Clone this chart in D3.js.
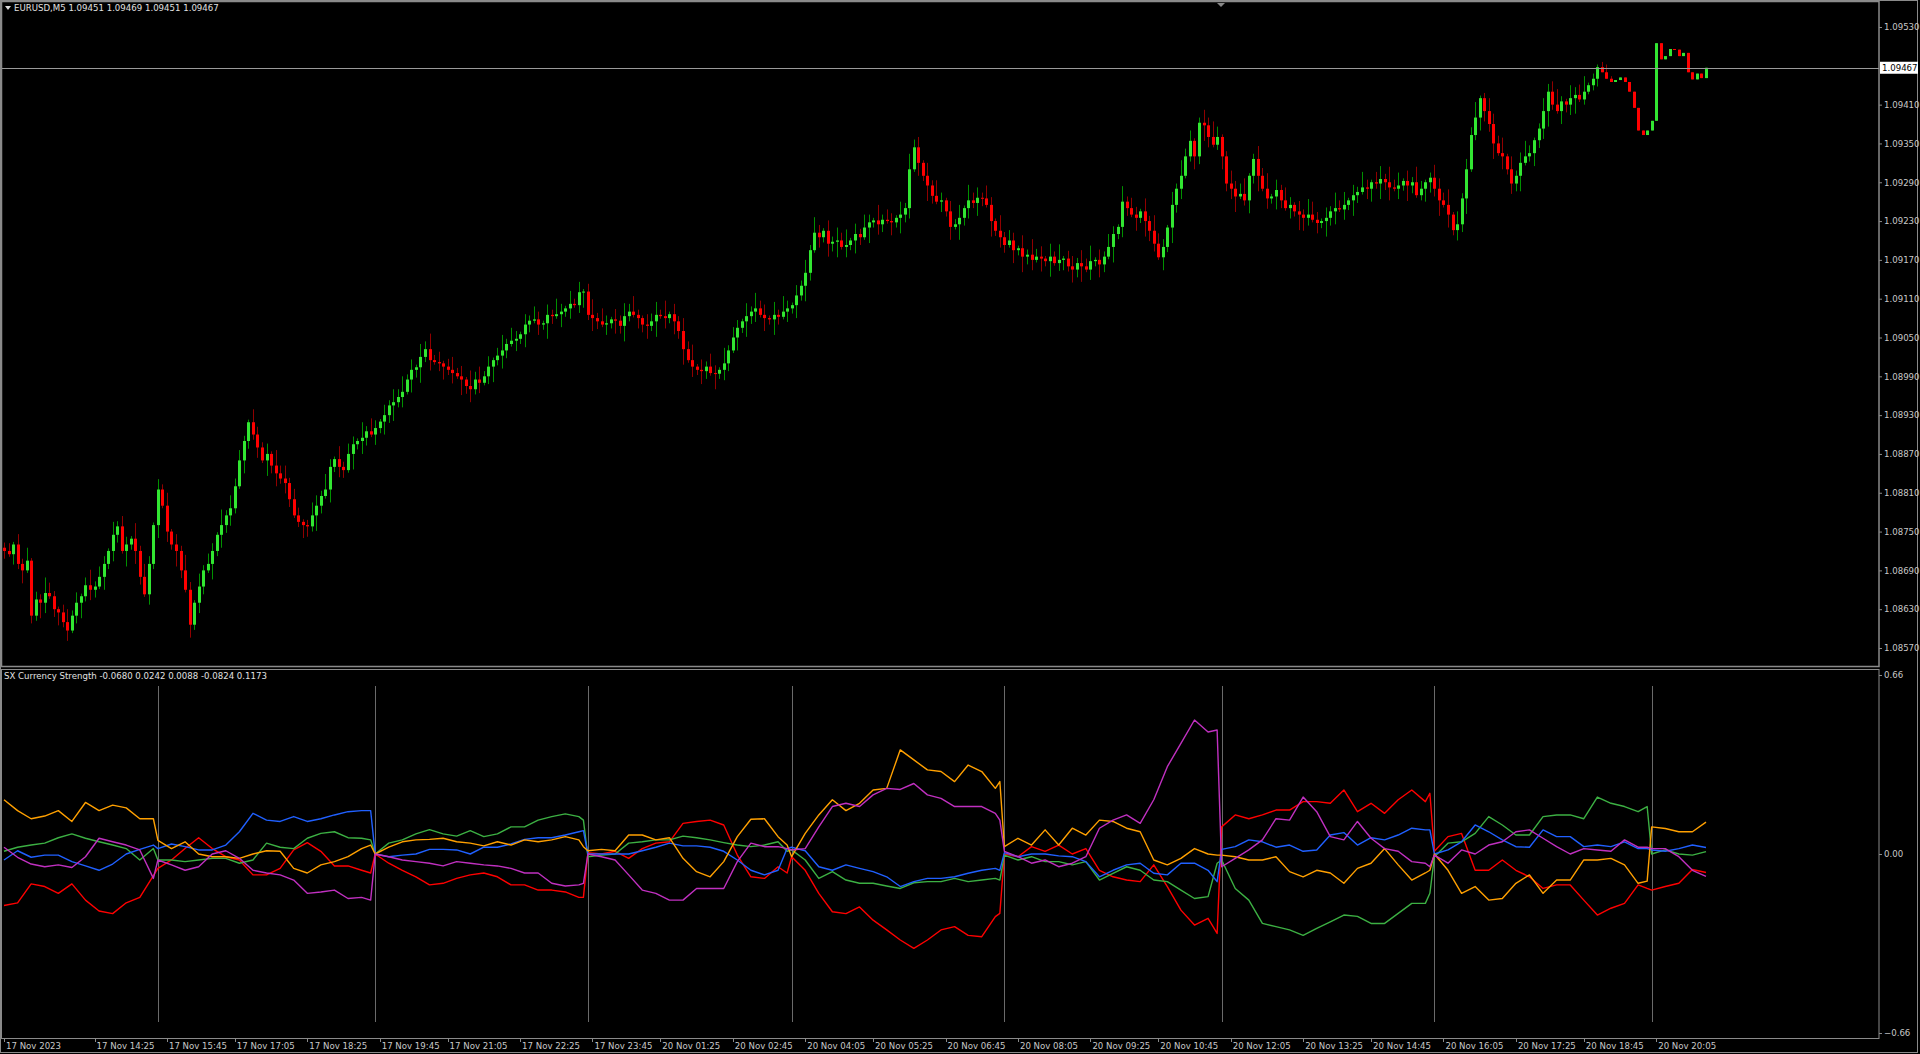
<!DOCTYPE html>
<html>
<head>
<meta charset="utf-8">
<script src="https://cdn.jsdelivr.net/npm/d3@7"></script>
<style>
  html, body { margin: 0; padding: 0; background: #000; overflow: hidden; }
  text { font-family: "DejaVu Sans", sans-serif; }
</style>
</head>
<body>
<div id="chart"></div>
<script>
// Closing prices in points above 1.08000 (M5 bars), open = previous close
const closes = [
  720,715,730,700,690,705,620,645,640,655,650,630,625,610,597,620,640,650,667,660,665,680,700,720,745,758,720,730,739,720,680,653,700,760,815,790,750,730,720,690,660,606,640,665,690,700,720,745,760,775,786,820,860,890,919,900,880,860,870,852,840,
  832,
  825,800,775,765,760,758,775,790,805,815,850,862,850,845,870,885,890,895,905,900,910,920,930,945,950,958,966,985,1000,1004,1020,1032,1015,1012,1010,1005,1000,995,990,985,975,970,985,980,990,1005,1015,1022,1030,1040,1045,1048,1055,1070,1076,1078,1070,1072,1085,1083,
  1086,
  1090,1095,1102,1100,1120,1121,1085,1080,1075,1070,1072,1078,1076,1068,1083,1090,1085,1080,1070,1068,1075,1085,1083,1080,1086,1075,1060,1032,1015,1005,1000,998,1005,995,994,1000,1010,1030,1050,1065,1075,1083,1090,1095,1085,1080,1078,1085,1082,1090,1095,1100,1115,1130,1150,1185,1212,1205,1215,1195,
  1198,
  1200,1190,1193,1200,1210,1205,1220,1228,1231,1225,1232,1230,1228,1235,1240,1250,1310,1344,1320,1300,1285,1269,1260,1262,1245,1221,1225,1235,1250,1262,1258,1266,1265,1255,1230,1215,1205,1193,1200,1185,1188,1175,1178,1170,1175,1172,1168,1175,1165,1170,1172,1160,1155,1165,1160,1155,1168,1170,1163,1175,
  1190,
  1210,1221,1260,1250,1240,1235,1245,1230,1215,1195,1174,1190,1220,1255,1280,1300,1330,1354,1330,1382,1378,1360,1348,1360,1330,1288,1280,1268,1272,1262,1300,1326,1300,1280,1265,1268,1278,1262,1250,1255,1245,1240,1235,1240,1232,1227,1230,1235,1245,1250,1248,1255,1262,1270,1275,1282,1280,1290,1288,1295,
  1290,
  1282,1280,1285,1292,1285,1290,1270,1280,1290,1297,1280,1262,1255,1240,1216,1225,1265,1310,1363,1390,1420,1400,1380,1350,1335,1330,1310,1288,1300,1320,1330,1335,1355,1373,1400,1430,1410,1400,1415,1410,1420,1425,1418,1430,1440,1450,1468,1460,1450,1445,
  1448,
  1452,1445,1430,1405,1370,1363,1370,1385,1505,1480,1485,1496,1495,1485,1490,1460,1449,1458,1451,1467
];
const firstOpen = 725;
// wick lengths above / below the body, one digit per bar (x4 points)
const upperWicks = "23142513264213524136243152431625314251426315243162534215324163524312542631524316253142536241536241352416352413625314253142631524136253142536214352614253614253162431526341526314252631425361425316243152634152631425163425316243152634152613425361425316243152643152634125364125346125361425314265314263514263145263514263125436152436125436152463125346215346121231";
const lowerWicks = "31425132641352413624315243162531425142631524316253421532416352431254263152431625314253624153624135241635241362531425314263152413625314253621435261425361425316243152634152631425263142536142531624315263415263142516342531624315263415261342536142531624315264315263412536412534612536142531426531426351426314526351426312543615243612543615243612534621534612123";
const priceTicks = [1.08570,1.08630,1.08690,1.08750,1.08810,1.08870,1.08930,1.08990,1.09050,1.09110,1.09170,1.09230,1.09290,1.09350,1.09410,1.09470,1.09530];

// Currency strength indicator, sampled per segment (resets at session lines)
const resetBars = [0, 34, 82, 129, 174, 221, 269, 316, 364, 377];
const sepBars = [34, 82, 129, 174, 221, 269, 316, 364];
const strRed = [-.19,-.18,-.11,-.12,-.145,-.11,-.17,-.21,-.22,-.18,-.16,-.08,
  -.053,-.022,.02,.06,.02,-.01,-.022,-.077,-.077,-.053,.015,.042,.01,-.044,-.044,-.06,-.07,
  0,-.034,-.06,-.084,-.114,-.108,-.09,-.077,-.07,-.084,-.114,-.114,-.133,-.133,-.14,-.16,-.16,
  .005,0,.01,-.016,.02,.04,.045,.113,.12,.125,.107,-.004,-.084,-.09,-.047,-.07,
  -.01,-.06,-.145,-.213,-.22,-.195,-.244,-.28,-.317,-.348,-.317,-.28,-.268,-.3,-.305,-.231,-.219,
  0,-.01,.027,.01,.033,0,.02,-.06,-.084,-.096,-.102,-.04,-.12,-.207,-.262,-.237,-.293,
  .1,.144,.13,.144,.162,.162,.193,.193,.187,.236,.156,.187,.15,.2,.236,.193,.224,
  .01,.064,.076,-.06,-.06,-.022,-.06,-.084,-.127,-.114,-.114,-.17,-.225,-.2,-.182,-.114,-.127,
  -.133,-.12,-.108,-.057,-.068];
const strGreen = [.01,.025,.033,.04,.06,.074,.058,.045,.033,.02,-.022,.02,
  -.022,-.022,-.028,-.022,-.016,-.016,-.034,-.022,.04,.025,.02,.058,.076,.082,.06,.058,.052,
  0,.04,.052,.074,.09,.074,.066,.086,.064,.074,.1,.1,.125,.138,.148,.138,.125,
  -.01,-.004,0,.04,.045,.052,.052,.066,.06,.052,.042,.033,.027,.033,.045,.01,
  .015,-.022,-.09,-.065,-.096,-.108,-.108,-.118,-.127,-.106,-.102,-.102,-.09,-.102,-.096,-.09,-.096,
  -.004,-.022,-.01,-.028,-.028,-.04,-.028,-.096,-.071,-.047,-.06,-.096,-.102,-.133,-.164,-.157,-.034,
  -.022,-.127,-.17,-.256,-.268,-.28,-.3,-.274,-.25,-.225,-.23,-.256,-.256,-.219,-.182,-.182,-.145,
  -.01,.04,.045,.076,.138,.107,.07,.07,.138,.144,.144,.13,.21,.187,.175,.156,.175,
  0,.015,0,-.004,.0088];
const strBlue = [-.022,.012,-.012,-.004,-.004,-.028,-.044,-.06,-.037,0,.017,.033,
  .02,.037,.027,.015,.015,.033,.082,.15,.125,.12,.138,.12,.13,.144,.156,.16,.16,
  0,-.01,-.004,0,.017,.017,.015,0,.025,.025,.037,.054,.06,.06,.07,.082,.086,
  0,0,0,0,.012,.025,.04,.03,.03,.025,.01,-.022,-.06,-.077,-.06,.02,
  .025,.012,-.047,-.06,-.04,-.053,-.065,-.084,-.12,-.102,-.09,-.09,-.084,-.071,-.06,-.053,-.06,
  .005,-.01,0,0,-.007,-.01,-.028,-.084,-.06,-.04,-.034,-.071,-.077,-.034,-.034,-.06,-.102,
  .017,.027,.052,.045,.025,.033,.01,.015,.07,.079,.033,.06,.052,.07,.095,.089,.089,
  0,.015,.045,.107,.082,.052,.027,.025,.089,.064,.064,.027,.033,.027,.045,.02,.02,
  .015,.01,.02,.033,.0242];
const strOrange = [.2,.16,.13,.14,.16,.12,.19,.16,.18,.17,.13,.13,
  .05,.02,.045,0,-.01,-.01,-.016,0,.012,.01,-.053,-.07,-.04,-.028,-.01,.02,.033,
  0,.025,.045,.052,.054,.058,.045,.04,.03,.045,.033,.052,.045,.052,.064,.052,.027,
  .012,.017,.012,.07,.07,.052,.06,-.016,-.065,-.084,-.028,.064,.128,.13,.064,.033,
  -.01,.076,.144,.2,.16,.187,.236,.242,.384,.347,.31,.304,.267,.328,.304,.242,.267,
  .027,.058,.033,.089,.033,.095,.07,.125,.12,.095,.082,-.022,-.04,-.016,.02,0,-.004,
  -.004,-.01,-.022,-.022,-.01,-.065,-.084,-.06,-.07,-.108,-.053,-.034,.02,-.04,-.096,-.07,-.06,
  0,-.06,-.145,-.12,-.17,-.164,-.108,-.077,-.145,-.096,-.096,-.022,-.022,-.016,-.04,-.108,-.1,
  .1,.094,.082,.082,.1173];
const strMagenta = [.025,-.012,-.037,-.047,-.04,-.05,-.01,.058,.045,.033,.015,-.09,
  -.022,-.04,-.06,-.047,0,.012,-.016,-.06,-.07,-.077,-.096,-.145,-.14,-.133,-.164,-.16,-.17,
  0,-.01,-.022,-.028,-.034,-.044,-.028,-.034,-.04,-.044,-.053,-.07,-.07,-.108,-.118,-.114,-.108,
  0,-.01,-.022,-.077,-.133,-.145,-.17,-.17,-.127,-.127,-.127,-.028,.04,.027,.027,.02,
  .015,.02,.1,.175,.187,.175,.218,.242,.238,.26,.218,.205,.175,.175,.175,.15,.125,
  .01,-.01,-.034,-.022,-.047,-.034,-.01,.095,.125,.144,.113,.2,.322,.408,.494,.45,.457,
  -.047,-.016,.015,.052,.13,.125,.21,.156,.064,.052,.12,.058,.02,.01,-.028,-.034,-.047,
  -.004,-.034,.015,0,.033,.045,.082,.089,.058,.027,0,.02,.015,.01,.052,.025,.025,
  .02,.02,-.01,-.06,-.0824];
const seriesColors = ["#ff0000", "#3cb043", "#2060ff", "#ffa000", "#c030c0"];

const timeLabels = ["17 Nov 2023","17 Nov 14:25","17 Nov 15:45","17 Nov 17:05","17 Nov 18:25","17 Nov 19:45","17 Nov 21:05","17 Nov 22:25","17 Nov 23:45","20 Nov 01:25","20 Nov 02:45","20 Nov 04:05","20 Nov 05:25","20 Nov 06:45","20 Nov 08:05","20 Nov 09:25","20 Nov 10:45","20 Nov 12:05","20 Nov 13:25","20 Nov 14:45","20 Nov 16:05","20 Nov 17:25","20 Nov 18:45","20 Nov 20:05"];
const timeBars = [0,20,36,51,67,83,98,114,130,145,161,177,192,208,224,240,255,271,287,302,318,334,349,365];

// ---- layout
const W = 1920, H = 1054;
const axisX = 1879;
const mainP = {y0: 1, y1: 666};
const indP = {y0: 669, y1: 1038};
const fs = "8.6px";

const svg = d3.select("#chart").append("svg")
  .attr("width", W).attr("height", H)
  .style("background", "#000");

const x = d3.scaleLinear().domain([0, closes.length - 1]).range([4, 1706]);
const y = d3.scaleLinear().domain([1.08570, 1.09530]).range([648, 27]);
const yi = d3.scaleLinear().domain([-0.66, 0.66]).range([1033, 675]);

const grey = "#8a8a8a", txt = "#c8c8c8";

// frames
svg.append("rect").attr("x", 0.5).attr("y", 0.5).attr("width", W - 3).attr("height", H - 2)
  .attr("fill", "none").attr("stroke", grey);
svg.append("rect").attr("x", 1.5).attr("y", mainP.y0 + 0.5).attr("width", axisX - 1.5).attr("height", mainP.y1 - mainP.y0)
  .attr("fill", "none").attr("stroke", grey).attr("stroke-width", 1.5);
svg.append("rect").attr("x", 1.5).attr("y", indP.y0 + 0.5).attr("width", axisX - 1.5).attr("height", indP.y1 - indP.y0)
  .attr("fill", "none").attr("stroke", grey);

// candles
const bars = closes.map((c, i) => {
  const o = i === 0 ? firstOpen : closes[i - 1];
  const hw = (+upperWicks[i] || 0) * 4, lw = (+lowerWicks[i] || 0) * 4;
  return {i, o: 1.08 + o / 1e5, c: 1.08 + c / 1e5,
    h: 1.08 + (Math.max(o, c) + hw) / 1e5, l: 1.08 + (Math.min(o, c) - lw) / 1e5};
});
const cg = svg.append("g");
cg.selectAll("line.wick").data(bars).enter().append("line")
  .attr("x1", d => Math.round(x(d.i)) + 0.5).attr("x2", d => Math.round(x(d.i)) + 0.5)
  .attr("y1", d => y(d.h)).attr("y2", d => y(d.l))
  .attr("stroke", d => d.c >= d.o ? "#009000" : "#900000");
cg.selectAll("rect.body").data(bars).enter().append("rect")
  .attr("x", d => Math.round(x(d.i)) - 1).attr("width", 3)
  .attr("y", d => y(Math.max(d.o, d.c)))
  .attr("height", d => Math.max(1, Math.abs(y(d.o) - y(d.c))))
  .attr("fill", d => d.c >= d.o ? "#32e632" : "#ff0000");

// current price line
const last = bars[bars.length - 1].c;
svg.append("line").attr("x1", 2).attr("x2", axisX).attr("y1", Math.round(y(last)) + 0.5).attr("y2", Math.round(y(last)) + 0.5)
  .attr("stroke", "#9a9a9a");

// price axis
const pa = svg.append("g").attr("transform", `translate(${axisX},0)`)
  .call(d3.axisRight(y).tickValues(priceTicks.filter(v => Math.abs(v - 1.0947) > 1e-6)).tickSize(3).tickFormat(d3.format(".5f")));
pa.select(".domain").remove();
pa.selectAll("line").attr("stroke", grey);
pa.selectAll("text").attr("fill", txt).style("font-size", fs).attr("x", 5);
svg.append("rect").attr("x", axisX + 1).attr("y", y(last) - 6).attr("width", 38).attr("height", 12)
  .attr("fill", "#fff");
svg.append("text").attr("x", axisX + 3).attr("y", y(last) + 3.5).attr("fill", "#000")
  .style("font-size", fs).text(d3.format(".5f")(last));

// headers
svg.append("path").attr("d", "M5,6 L11,6 L8,10 Z").attr("fill", "#ddd");
svg.append("path").attr("d", "M1217,3 L1225,3 L1221,7 Z").attr("fill", "#888");
svg.append("text").attr("x", 14).attr("y", 11).attr("fill", "#e0e0e0").style("font-size", fs)
  .text("EURUSD,M5  1.09451 1.09469 1.09451 1.09467");
svg.append("text").attr("x", 4).attr("y", 679).attr("fill", "#e0e0e0").style("font-size", fs)
  .text("SX Currency Strength " + [strRed, strBlue, strGreen, strMagenta, strOrange].map(s => s[s.length - 1].toFixed(4)).join(" "));

// indicator axis
const ia = svg.append("g").attr("transform", `translate(${axisX},0)`)
  .call(d3.axisRight(yi).tickValues([0.66, 0, -0.66]).tickSize(3).tickFormat(d3.format(".2f")));
ia.select(".domain").remove();
ia.selectAll("line").attr("stroke", grey);
ia.selectAll("text").attr("fill", txt).style("font-size", fs).attr("x", 5);

// session separators
svg.append("g").selectAll("line").data(sepBars).enter().append("line")
  .attr("x1", d => Math.round(x(d)) + 0.5).attr("x2", d => Math.round(x(d)) + 0.5)
  .attr("y1", 686).attr("y2", 1022).attr("stroke", "#6a6a6a");

// sample bars for indicator lines
const sampleBars = [];
for (let s = 0; s < resetBars.length - 1; s++) {
  const a = resetBars[s], b = resetBars[s + 1];
  for (let k = a; k < b; k += 3) sampleBars.push(k);
  if (sampleBars[sampleBars.length - 1] !== b - 1) sampleBars.push(b - 1);
}
const line = d3.line().x((d, i) => x(sampleBars[i])).y(d => yi(d));
const ig = svg.append("g");
[strRed, strGreen, strBlue, strOrange, strMagenta].forEach((s, k) => {
  ig.append("path").datum(s.slice(0, sampleBars.length)).attr("d", line)
    .attr("fill", "none").attr("stroke", seriesColors[k]).attr("stroke-width", 1.4)
    .attr("stroke-linejoin", "round");
});

// time axis
const ta = svg.append("g");
ta.selectAll("line").data(timeBars).enter().append("line")
  .attr("x1", d => Math.round(x(d)) + 0.5).attr("x2", d => Math.round(x(d)) + 0.5)
  .attr("y1", indP.y1).attr("y2", indP.y1 + 4).attr("stroke", grey);
ta.selectAll("text").data(timeLabels).enter().append("text")
  .attr("x", (d, i) => x(timeBars[i]) + 2).attr("y", 1049)
  .attr("fill", txt).style("font-size", fs).text(d => d);
</script>
</body>
</html>
